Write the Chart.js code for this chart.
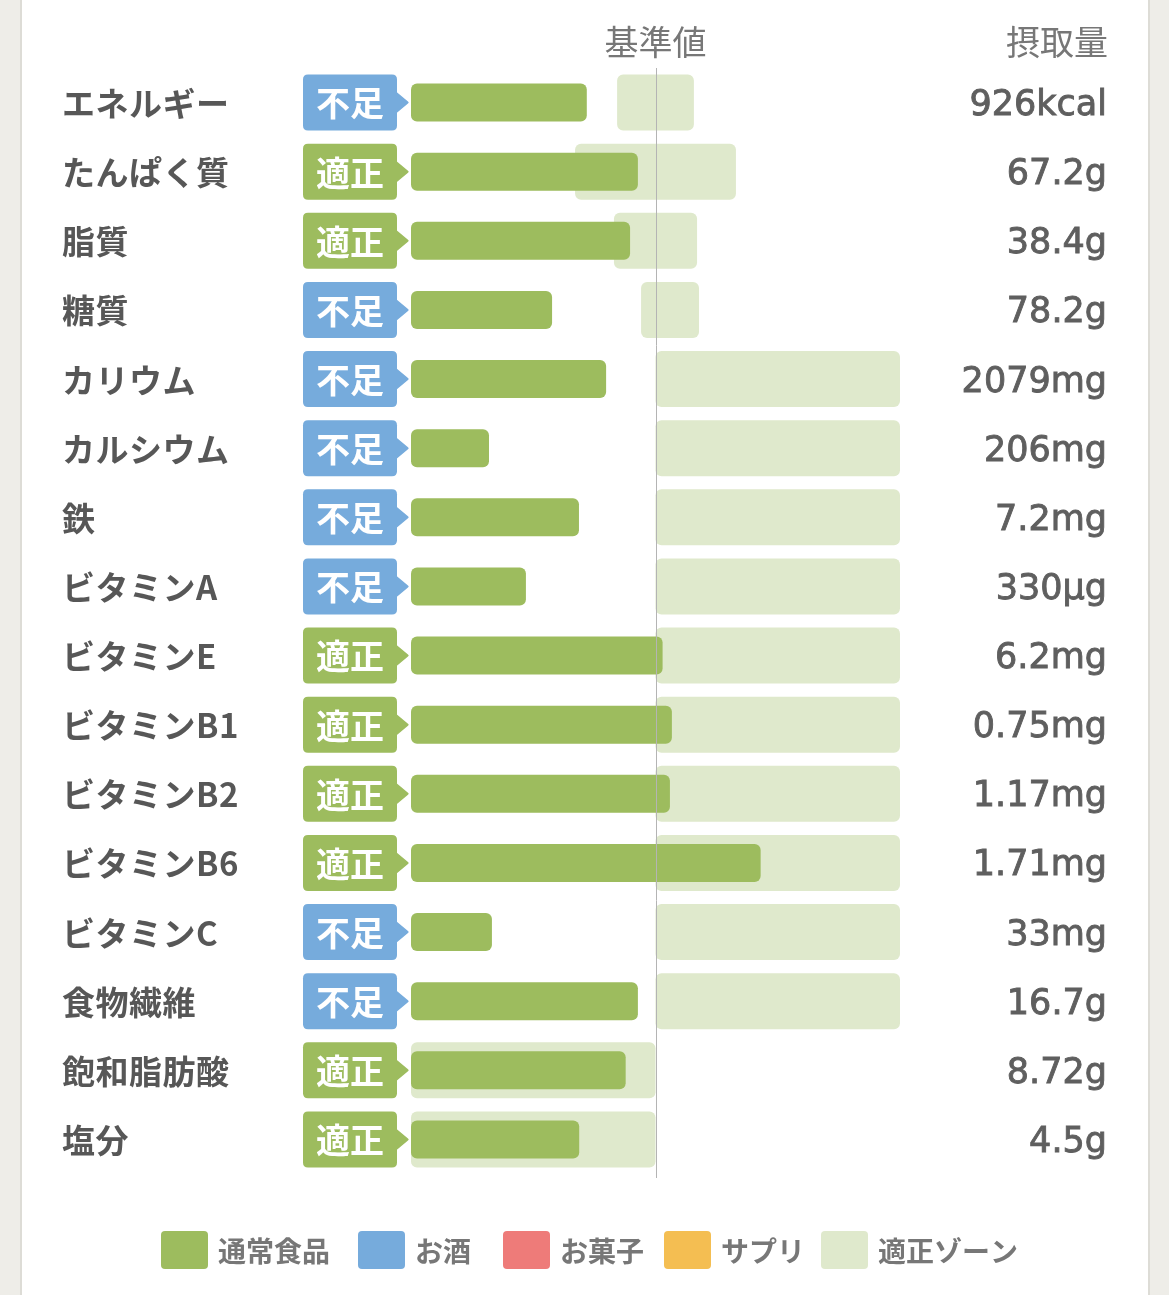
<!DOCTYPE html>
<html lang="ja">
<head>
<meta charset="utf-8">
<title>栄養素チャート</title>
<script src="https://cdn.jsdelivr.net/npm/chart.js@4.4.1/dist/chart.umd.min.js"></script>
<style>
  html, body { margin: 0; padding: 0; background: #eeede8; width: 1169px; height: 1295px; overflow: hidden; }
  #card { position: absolute; left: 20px; top: 0; width: 1126px; height: 1295px; background: #fff;
          border-left: 2px solid #dddcd6; border-right: 2px solid #dddcd6; }
  #wrap { position: absolute; left: 0; top: 0; width: 1169px; height: 1295px; }
</style>
</head>
<body>
<div id="card"></div>
<div id="wrap"><canvas id="c" width="1169" height="1295"></canvas></div>
<script>
// ---- data (percent of 基準値) ----
const categories = ['エネルギー','たんぱく質','脂質','糖質','カリウム','カルシウム','鉄','ビタミンA','ビタミンE','ビタミンB1','ビタミンB2','ビタミンB6','ビタミンC','食物繊維','飽和脂肪酸','塩分'];
const intakePercent = [71.9, 92.8, 89.6, 57.7, 79.8, 31.9, 68.7, 47.0, 102.9, 106.7, 105.9, 143.0, 33.1, 92.8, 87.8, 68.8];
const zoneLow  = [84.3, 67.1, 83.0, 94.1, 100, 100, 100, 100, 100, 100, 100, 100, 100, 100, 0, 0];
const zoneHigh = [115.7, 132.9, 117.0, 117.8, 200, 200, 200, 200, 200, 200, 200, 200, 200, 200, 100, 100];
const statuses = ['不足','適正','適正','不足','不足','不足','不足','不足','適正','適正','適正','適正','不足','不足','適正','適正'];
const intakeLabels = ['926kcal','67.2g','38.4g','78.2g','2079mg','206mg','7.2mg','330µg','6.2mg','0.75mg','1.17mg','1.71mg','33mg','16.7g','8.72g','4.5g'];
const referenceValue = 100;
const axisMin = 0;
const axisMax = 200;
const legendNames = ['通常食品','お酒','お菓子','サプリ','適正ゾーン'];
const legendColors = ['#9dbc5e','#76abdc','#ee7b79','#f4be52','#dfe9cc'];
const statusColors = { '不足': '#76abdc', '適正': '#9dbc5e' };

const FOOD = '#9dbc5e';
const ZONE = '#dfe9cc';
const JP = "'Noto Sans CJK JP', 'Noto Sans', sans-serif";
const LEGEND_BOX_X = [161, 358, 503, 664, 821];

function roundRect(ctx, x, y, w, h, r) {
  ctx.beginPath();
  ctx.moveTo(x + r, y);
  ctx.lineTo(x + w - r, y);
  ctx.quadraticCurveTo(x + w, y, x + w, y + r);
  ctx.lineTo(x + w, y + h - r);
  ctx.quadraticCurveTo(x + w, y + h, x + w - r, y + h);
  ctx.lineTo(x + r, y + h);
  ctx.quadraticCurveTo(x, y + h, x, y + h - r);
  ctx.lineTo(x, y + r);
  ctx.quadraticCurveTo(x, y, x + r, y);
  ctx.closePath();
}

const overlay = {
  id: 'overlay',
  afterDatasetsDraw(chart) {
    const { ctx, chartArea, scales: { x } } = chart;
    const rx = Math.round(x.getPixelForValue(referenceValue)) + 0.5;
    ctx.save();
    ctx.strokeStyle = '#b4b4b4';
    ctx.lineWidth = 1;
    ctx.beginPath();
    ctx.moveTo(rx, chartArea.top);
    ctx.lineTo(rx, chartArea.bottom + 4);
    ctx.stroke();
    ctx.restore();
  },
  afterDraw(chart) {
    const { ctx, scales: { x, y } } = chart;
    ctx.save();
    // headers
    ctx.fillStyle = '#777';
    ctx.font = '34px ' + JP;
    ctx.textBaseline = 'middle';
    ctx.textAlign = 'center';
    ctx.fillText('基準値', x.getPixelForValue(referenceValue), 42);
    ctx.textAlign = 'right';
    ctx.fillText('摂取量', 1108, 42);

    categories.forEach((name, i) => {
      const cy = y.getPixelForValue(i);
      // label
      ctx.textAlign = 'left';
      ctx.textBaseline = 'middle';
      ctx.fillStyle = '#575757';
      ctx.font = 'bold 33px ' + JP;
      ctx.letterSpacing = '0.5px';
      ctx.fillText(name, 62, cy + 1);
      ctx.letterSpacing = '0px';

      // badge
      const st = statuses[i];
      ctx.fillStyle = statusColors[st];
      const bx = 303, bw = 94, bh = 56, by = cy - bh / 2;
      roundRect(ctx, bx, by, bw, bh, 5);
      ctx.fill();
      ctx.beginPath();
      ctx.moveTo(bx + bw - 1, cy - 11);
      ctx.lineTo(bx + bw + 11, cy - 1);
      ctx.quadraticCurveTo(bx + bw + 12.5, cy, bx + bw + 11, cy + 1);
      ctx.lineTo(bx + bw - 1, cy + 11);
      ctx.closePath();
      ctx.fill();
      ctx.fillStyle = '#fff';
      ctx.font = 'bold 34px ' + JP;
      ctx.textAlign = 'center';
      ctx.fillText(st, bx + bw / 2, cy + 1);

      // value
      ctx.fillStyle = '#5f5f5f';
      ctx.strokeStyle = '#5f5f5f';
      ctx.lineWidth = 0.9;
      ctx.font = "35px 'DejaVu Sans', sans-serif";
      ctx.textAlign = 'right';
      ctx.textBaseline = 'alphabetic';
      ctx.fillText(intakeLabels[i], 1107, cy + 12.5);
      ctx.strokeText(intakeLabels[i], 1107, cy + 12.5);
    });

    // legend
    ctx.font = 'bold 28px ' + JP;
    const boxW = 47, boxH = 38, gapText = 10;
    const ly = 1250;
    legendNames.forEach((n, i) => {
      const lx = LEGEND_BOX_X[i];
      ctx.fillStyle = legendColors[i];
      roundRect(ctx, lx, ly - boxH / 2, boxW, boxH, 4);
      ctx.fill();
      ctx.fillStyle = '#777';
      ctx.textAlign = 'left';
      ctx.textBaseline = 'middle';
      ctx.fillText(n, lx + boxW + gapText, ly + 1);
    });
    ctx.restore();
  }
};

new Chart(document.getElementById('c'), {
  type: 'bar',
  data: {
    labels: categories,
    datasets: [
      {
        label: '通常食品',
        data: intakePercent,
        backgroundColor: FOOD,
        borderRadius: 6,
        borderSkipped: false,
        barPercentage: 0.55,
        categoryPercentage: 1,
        grouped: false,
        order: 0
      },
      {
        label: '適正ゾーン',
        data: zoneLow.map((lo, i) => [lo, zoneHigh[i]]),
        backgroundColor: ZONE,
        borderRadius: 6,
        borderSkipped: false,
        barPercentage: 0.81,
        categoryPercentage: 1,
        grouped: false,
        order: 1
      }
    ]
  },
  options: {
    indexAxis: 'y',
    responsive: false,
    animation: false,
    devicePixelRatio: 1,
    layout: { padding: { left: 411, right: 269, top: 68, bottom: 121 } },
    scales: {
      x: { display: false, min: axisMin, max: axisMax },
      y: { display: false }
    },
    plugins: { legend: { display: false }, tooltip: { enabled: false } }
  },
  plugins: [overlay]
});
</script>
</body>
</html>
